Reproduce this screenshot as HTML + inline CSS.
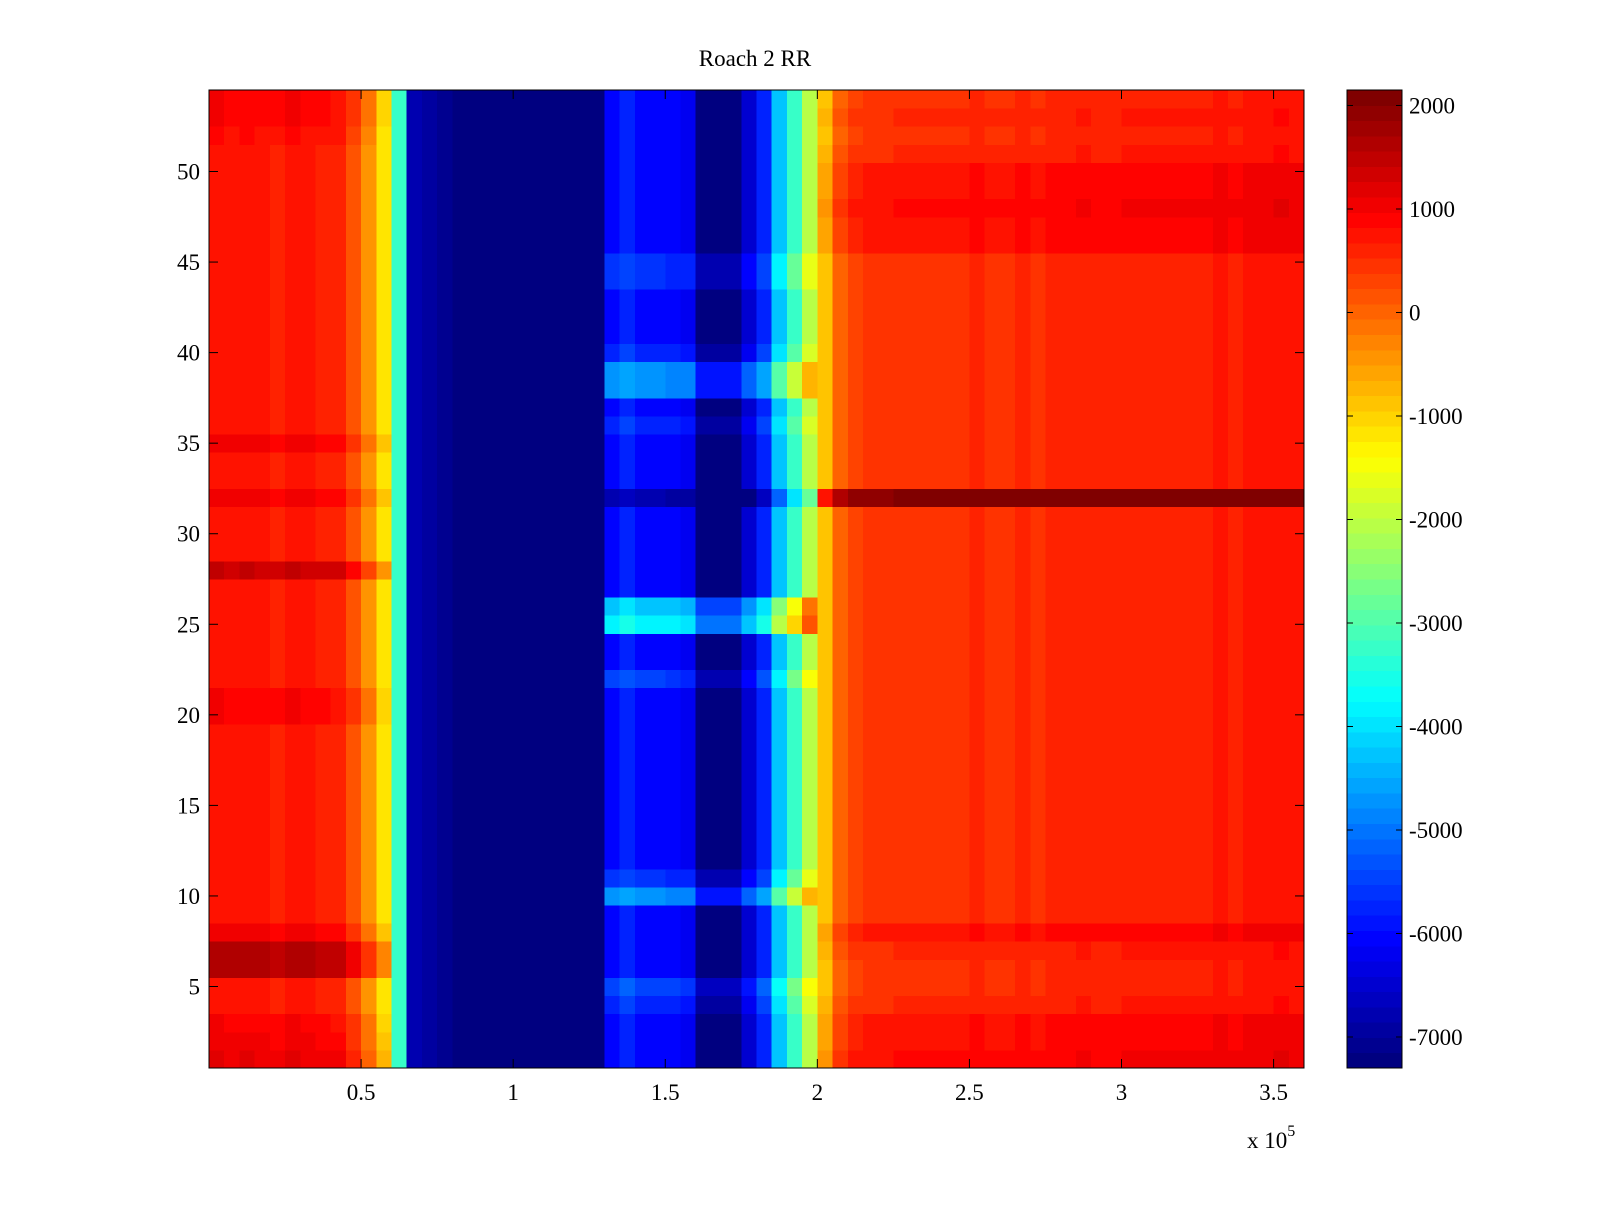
<!DOCTYPE html>
<html><head><meta charset="utf-8"><style>
html,body{margin:0;padding:0;background:#fff;}
svg text{font-family:"Liberation Serif",serif;fill:#000;}
</style></head><body>
<svg id="chart" width="1600" height="1200" viewBox="0 0 1600 1200" xmlns="http://www.w3.org/2000/svg">
<rect width="1600" height="1200" fill="#fff"/>
<text x="755" y="66" font-size="23" text-anchor="middle">Roach 2 RR</text>
<g id="cells" shape-rendering="crispEdges"></g>
<g id="cbar" shape-rendering="crispEdges"></g>
<g id="axes"></g>
</svg>
<script>
// column profile: mean value per 5000-wide x bin (0 .. 3.6e5)
const colBins = [800,700,750,700,650,800,700,650,600,200,-400,-1200,-3200,-6800,
 -7000,-7100,-7200,-7200,-7250,-7250,
 -7300,-7300,-7300,-7300,-7300,-7300,
 -6000,-5800,-6000,-6000,-6100,-6200,
 -7250,-7250,-7250,-6500,-5800,-4300,-3200,-2000,-900,0,
 300,400,400,450,450,500,450,500,550,500,500,550,500,550,550,600,550,550,600,600,600,650,600,650,700,650,700,700,750,700];
// row offsets in warm region left of the gap (rows 1..54, bottom to top)
const rowWarmLeft = [400,300,200,0,0,900,900,300,0,0, 0,0,0,0,0,0,0,0,0,200, 200,0,0,0,0,0,0,700,0,0, 0,300,0,0,300,0,0,0,0,0, 0,0,0,0,0,0,0,0,0,0, 0,100,200,200];
// row offsets in warm region right of the gap
const rowWarmRight = [400,300,300,100,0,0,100,300,0,0, 0,0,0,0,0,0,0,0,0,0, 0,0,0,0,0,0,0,0,0,0, 0,1600,0,0,0,0,0,0,0,0, 0,0,0,0,0,300,300,400,300,300, 100,0,100,0];
// row offsets in textured blue bands
const rowCold = [0,0,0,300,600,0,0,0,0,1300, 400,0,0,0,0,0,0,0,0,0, 0,500,0,0,2200,1800,0,0,0,0, 0,-800,0,0,0,300,0,1300,1300,300, 0,0,0,400,400,0,0,0,0,0, 0,0,0,0];
const xTicks = [0.5,1,1.5,2,2.5,3,3.5];
const xTickLabels = ["0.5","1","1.5","2","2.5","3","3.5"];
const yTicks = [5,10,15,20,25,30,35,40,45,50];
const cTicks = [2000,1000,0,-1000,-2000,-3000,-4000,-5000,-6000,-7000];

const NS="http://www.w3.org/2000/svg";
const PX0=209,PX1=1304,PY0=90,PY1=1068;
const XMAX=3.6e5, YMIN=0.5, YMAX=54.5, CMIN=-7300, CMAX=2150, BIN=5000;
const xs = v => PX0 + v/XMAX*(PX1-PX0);
const ys = v => PY1 - (v-YMIN)/(YMAX-YMIN)*(PY1-PY0);
function jet(t){
  t=Math.max(0,Math.min(1,t)); t=Math.floor(t*63.999)/63;
  const f=x=>Math.round(255*Math.max(0,Math.min(1,x)));
  return `rgb(${f(1.5-Math.abs(4*t-3))},${f(1.5-Math.abs(4*t-2))},${f(1.5-Math.abs(4*t-1))})`;
}
const cn = v => (v-CMIN)/(CMAX-CMIN);
function mk(tag,attrs,parent){const e=document.createElementNS(NS,tag);for(const k in attrs)e.setAttribute(k,attrs[k]);parent.appendChild(e);return e;}

const cells=document.getElementById('cells');
for(let r=0;r<rowWarmLeft.length;r++){
  for(let c=0;c<colBins.length;c++){
    const base=colBins[c];
    let v=base;
    if(base>-1500) v = base + (c<20 ? rowWarmLeft[r] : rowWarmRight[r]);
    else if(base>-7280 && c>=25) v = base + rowCold[r];
    const x0=xs(c*BIN), x1=xs((c+1)*BIN), y0=ys(r+1.5), y1=ys(r+0.5);
    const rc=mk('rect',{x:x0,y:y0,width:x1-x0+0.5,height:y1-y0+0.5,fill:jet(cn(v))},cells);
    
    
  }
}
// colorbar
const cb=document.getElementById('cbar');
const CX0=1347,CX1=1402;
const cy = v => PY1 - (v-CMIN)/(CMAX-CMIN)*(PY1-PY0);
for(let i=0;i<64;i++){
  const v0=CMIN+i*(CMAX-CMIN)/64, v1=CMIN+(i+1)*(CMAX-CMIN)/64;
  const rc=mk('rect',{x:CX0,y:cy(v1),width:CX1-CX0,height:cy(v0)-cy(v1)+0.5,fill:jet((i+0.5)/64)},cb);
  
  
}
mk('rect',{x:CX0,y:PY0,width:CX1-CX0,height:PY1-PY0,fill:'none',stroke:'#000','stroke-width':1},cb);
cTicks.forEach(v=>{
  const y=cy(v);
  mk('line',{x1:CX0,x2:CX0+6,y1:y,y2:y,stroke:'#000'},cb);
  mk('line',{x1:CX1,x2:CX1-6,y1:y,y2:y,stroke:'#000'},cb);
  const t=mk('text',{x:1409,y:y+8,'font-size':23},cb); t.textContent=String(v);
  
  
});
// axes
const ax=document.getElementById('axes');
mk('rect',{x:PX0,y:PY0,width:PX1-PX0,height:PY1-PY0,fill:'none',stroke:'#000','stroke-width':1},ax);
xTicks.forEach((v,i)=>{
  const x=xs(v*1e5);
  mk('line',{x1:x,x2:x,y1:PY1,y2:PY1-9,stroke:'#000'},ax);
  mk('line',{x1:x,x2:x,y1:PY0,y2:PY0+9,stroke:'#000'},ax);
  const t=mk('text',{x:x,y:1100,'font-size':23,'text-anchor':'middle'},ax); t.textContent=xTickLabels[i];
  
  
});
yTicks.forEach(v=>{
  const y=ys(v);
  mk('line',{x1:PX0,x2:PX0+9,y1:y,y2:y,stroke:'#000'},ax);
  mk('line',{x1:PX1,x2:PX1-9,y1:y,y2:y,stroke:'#000'},ax);
  const t=mk('text',{x:200,y:y+8,'font-size':23,'text-anchor':'end'},ax); t.textContent=String(v);
  
  
});
const ex=mk('text',{x:1247,y:1148,'font-size':23},ax);
ex.innerHTML='x 10<tspan dy="-12" font-size="16">5</tspan>';


</script>
</body></html>
